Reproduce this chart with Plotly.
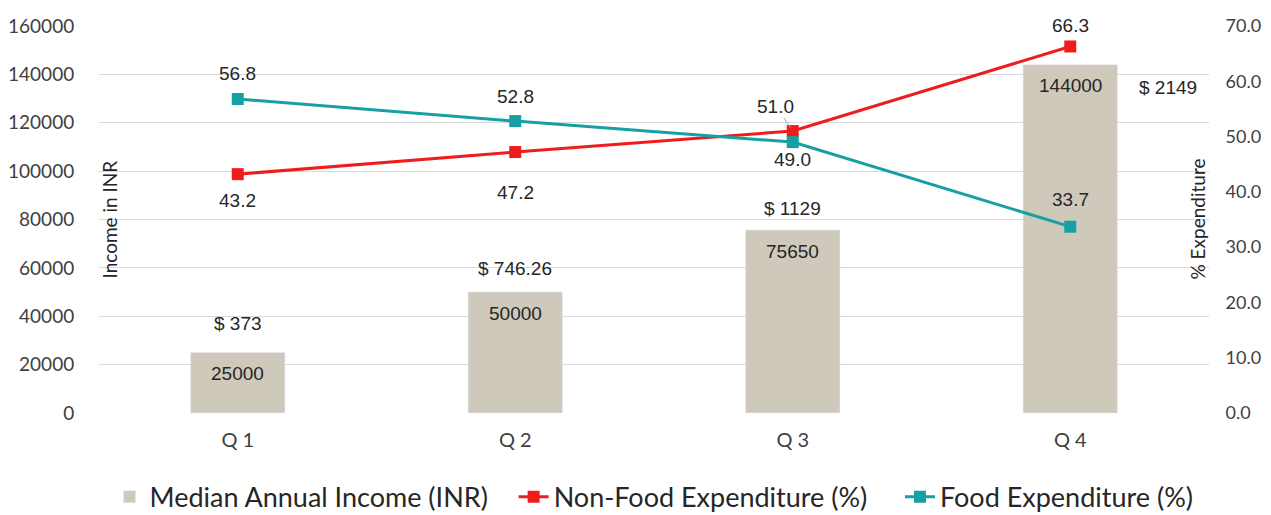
import plotly.graph_objects as go

# Data
quarters = ['Q 1', 'Q 2', 'Q 3', 'Q 4']
median_income = [25000, 50000, 75650, 144000]
usd_labels = ['$ 373', '$ 746.26', '$ 1129', '$ 2149']
non_food = [43.2, 47.2, 51.0, 66.3]
food = [56.8, 52.8, 49.0, 33.7]

# label offsets in pixels (style only)
usd_shift = [29, 24, 22, -23]
non_food_shift = [-26, -40, 25, 21]
food_shift = [25, 25, -17, 27]

red = '#f01c1c'
teal = '#17a0a3'
label_font = dict(family='Liberation Sans, Arial', size=19, color='#262626')
axis_font = dict(family='Lato, Open Sans', size=19, color='#404040')
pad = '\u00a0'

fig = go.Figure()

fig.add_trace(go.Bar(
    x=quarters, y=median_income, name='Median Annual Income (INR)' + pad * 3,
    marker_color='#cfc9bc', width=0.34,
))

fig.add_trace(go.Scatter(
    x=quarters, y=non_food, name='Non-Food Expenditure (%)' + pad * 4, yaxis='y2',
    mode='lines+markers', line=dict(color=red, width=3),
    marker=dict(symbol='square', size=12, color=red), cliponaxis=False,
))

fig.add_trace(go.Scatter(
    x=quarters, y=food, name='Food Expenditure (%)', yaxis='y2',
    mode='lines+markers', line=dict(color=teal, width=3),
    marker=dict(symbol='square', size=12, color=teal), cliponaxis=False,
))

# bar value labels and dollar labels
for i, (q, v, t) in enumerate(zip(quarters, median_income, usd_labels)):
    fig.add_annotation(x=q, y=v, text=str(v), showarrow=False, yshift=-21,
                       font=label_font)
    fig.add_annotation(x=q, y=v, text=t, showarrow=False, yshift=usd_shift[i],
                       xshift=98 if i == 3 else 0, font=label_font)

# line labels
for i, (q, v) in enumerate(zip(quarters, non_food)):
    if i == 2:
        fig.add_annotation(x=q, y=v, yref='y2', text=f'{v:.1f}', showarrow=True,
                           arrowhead=0, arrowwidth=1, arrowcolor='#a6a6a6',
                           ax=-17, ay=-25, standoff=4, font=label_font)
    else:
        fig.add_annotation(x=q, y=v, yref='y2', text=f'{v:.1f}', showarrow=False,
                           yshift=non_food_shift[i], font=label_font)
for i, (q, v) in enumerate(zip(quarters, food)):
    fig.add_annotation(x=q, y=v, yref='y2', text=f'{v:.1f}', showarrow=False,
                       yshift=food_shift[i], font=label_font)

# axis titles drawn inside the plot area
title_font = dict(family='Lato, Open Sans', size=19, color='#262626')
fig.add_annotation(xref='paper', yref='paper', x=0.0, y=0.5, xshift=10,
                   xanchor='center', text='Income in INR', textangle=-90,
                   showarrow=False, font=title_font)
fig.add_annotation(xref='paper', yref='paper', x=1.0, y=0.5, xshift=-12,
                   xanchor='center', text='% Expenditure', textangle=-90,
                   showarrow=False, font=title_font)

fig.update_layout(
    width=1271, height=515,
    margin=dict(l=91, r=70, t=18, b=110),
    plot_bgcolor='white', paper_bgcolor='white',
    showlegend=True,
    legend=dict(orientation='h', x=0.5, xanchor='center', yref='container',
                y=0.05, yanchor='middle',
                font=dict(family='Lato, Open Sans', size=27, color='#262626'),
                traceorder='normal', itemwidth=30),
    xaxis=dict(tickfont=dict(family='Lato, Open Sans', size=20, color='#404040'),
               showgrid=False, showline=False, automargin=False,
               ticks='outside', ticklen=9, tickcolor='white'),
    yaxis=dict(range=[0, 160000], dtick=20000, tickformat='d', tickfont=axis_font,
               gridcolor='#d9d9d9', zeroline=False, showline=False, automargin=False,
               ticks='outside', ticklen=20, tickcolor='white'),
    yaxis2=dict(range=[0, 70], dtick=10, tickformat='.1f', overlaying='y', side='right',
                tickfont=dict(family='Lato, Open Sans', size=18, color='#404040'),
                showgrid=False, zeroline=False, showline=False,
                automargin=False, ticks='outside', ticklen=12, tickcolor='white'),
)

fig.write_html('out.html')
